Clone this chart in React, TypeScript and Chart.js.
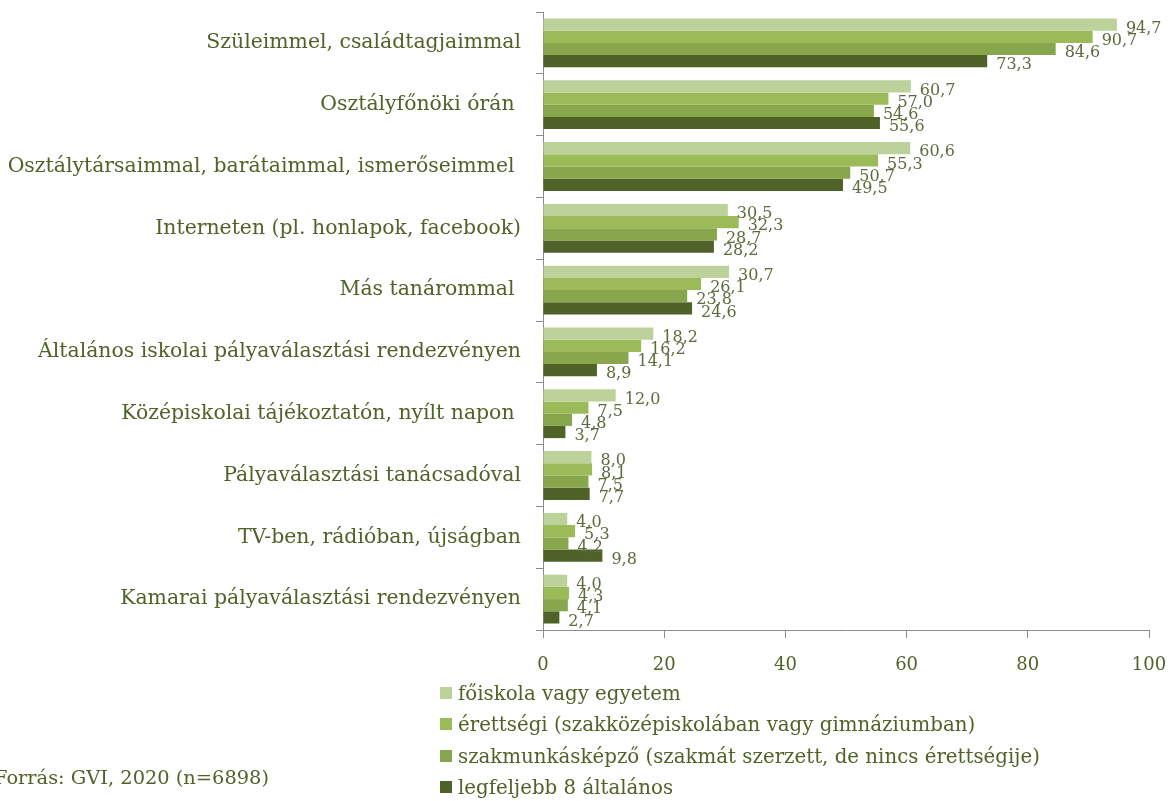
import React, { useEffect, useRef } from "react";
import { Chart, registerables } from "chart.js";

Chart.register(...registerables);

const categories = [
  "Szüleimmel, családtagjaimmal",
  "Osztályfőnöki órán ",
  "Osztálytársaimmal, barátaimmal, ismerőseimmel ",
  "Interneten (pl. honlapok, facebook)",
  "Más tanárommal ",
  "Általános iskolai pályaválasztási rendezvényen",
  "Középiskolai tájékoztatón, nyílt napon ",
  "Pályaválasztási tanácsadóval",
  "TV-ben, rádióban, újságban",
  "Kamarai pályaválasztási rendezvényen",
];

const seriesNames = [
  "főiskola vagy egyetem",
  "érettségi (szakközépiskolában vagy gimnáziumban)",
  "szakmunkásképző (szakmát szerzett, de nincs érettségije)",
  "legfeljebb 8 általános",
];

const foiskola = [94.7, 60.7, 60.6, 30.5, 30.7, 18.2, 12.0, 8.0, 4.0, 4.0];
const erettsegi = [90.7, 57.0, 55.3, 32.3, 26.1, 16.2, 7.5, 8.1, 5.3, 4.3];
const szakmunkas = [84.6, 54.6, 50.7, 28.7, 23.8, 14.1, 4.8, 7.5, 4.2, 4.1];
const altalanos = [73.3, 55.6, 49.5, 28.2, 24.6, 8.9, 3.7, 7.7, 9.8, 2.7];

const xTicks = [0, 20, 40, 60, 80, 100];
const sourceText = "Forrás: GVI, 2020 (n=6898)";

const colors = ["#BDD19A", "#9BBB59", "#88A64C", "#4F6228"];
const TEXT = "#4F6228";
const FONT = "'DejaVu Serif', serif";

const dataLabelPlugin = {
  id: "dataLabels",
  afterDatasetsDraw(chart: any) {
    const ctx = chart.ctx;
    ctx.save();
    ctx.font = `16px ${FONT}`;
    ctx.fillStyle = "#5A6B3C";
    ctx.textAlign = "left";
    ctx.textBaseline = "middle";
    chart.data.datasets.forEach((ds: any, i: number) => {
      const meta = chart.getDatasetMeta(i);
      meta.data.forEach((bar: any, j: number) => {
        const v = ds.data[j] as number;
        ctx.fillText(v.toFixed(1).replace(".", ","), bar.x + 9, bar.y + 4);
      });
    });
    ctx.restore();
  },
};

export default function App() {
  const ref = useRef<HTMLCanvasElement>(null);
  useEffect(() => {
    if (!ref.current) return;
    const all = [foiskola, erettsegi, szakmunkas, altalanos];
    const chart = new Chart(ref.current, {
      type: "bar",
      data: {
        labels: categories,
        datasets: all.map((d, i) => ({
          label: seriesNames[i],
          data: d,
          backgroundColor: colors[i],
          borderWidth: 0,
          categoryPercentage: 0.79,
          barPercentage: 1,
        })),
      },
      options: {
        indexAxis: "y",
        responsive: false,
        animation: false,
        devicePixelRatio: 1,
        layout: { padding: { top: 12, right: 23, left: 0, bottom: 0 } },
        plugins: {
          legend: { display: false },
          tooltip: { enabled: false },
        },
        scales: {
          y: {
            type: "category",
            afterFit: (s: any) => {
              s.width = 543;
              s.paddingTop = 0;
              s.paddingBottom = 0;
            },
            grid: {
              drawOnChartArea: false,
              tickLength: 7,
              color: "#8C8C8C",
              offset: true,
            },
            border: { color: "#8C8C8C" },
            ticks: {
              color: TEXT,
              font: { family: FONT, size: 20.4 },
              padding: 15,
            },
          },
          x: {
            type: "linear",
            min: 0,
            max: 100,
            afterFit: (s: any) => {
              s.height = 171;
              s.paddingLeft = 0;
              s.paddingRight = 0;
            },
            afterBuildTicks: (s: any) => {
              s.ticks = xTicks.map((v) => ({ value: v }));
            },
            grid: {
              drawOnChartArea: false,
              tickLength: 8,
              color: "#8C8C8C",
            },
            border: { color: "#8C8C8C" },
            ticks: {
              color: TEXT,
              font: { family: FONT, size: 18 },
              padding: 17,
            },
          },
        },
      },
      plugins: [dataLabelPlugin],
    } as any);
    return () => chart.destroy();
  }, []);

  const legendTops = [682, 713, 745, 776];
  return (
    <div
      style={{
        position: "fixed",
        left: 0,
        top: 0,
        width: 1172,
        height: 801,
        background: "#fff",
        overflow: "hidden",
      }}
    >
      <canvas ref={ref} width={1172} height={801} style={{ width: 1172, height: 801, display: "block" }} />
      {seriesNames.map((name, i) => (
        <div
          key={name}
          style={{
            position: "absolute",
            left: 440,
            top: legendTops[i],
            height: 22,
            display: "flex",
            alignItems: "center",
            fontFamily: FONT,
            fontSize: 19.8,
            color: TEXT,
            whiteSpace: "nowrap",
          }}
        >
          <span
            style={{
              display: "inline-block",
              width: 12,
              height: 12,
              background: colors[i],
              marginRight: 6,
            }}
          />
          {name}
        </div>
      ))}
      <div
        style={{
          position: "absolute",
          left: -6,
          top: 767,
          fontFamily: FONT,
          fontSize: 19.4,
          color: TEXT,
          whiteSpace: "nowrap",
          lineHeight: "22px",
        }}
      >
        {sourceText}
      </div>
    </div>
  );
}
